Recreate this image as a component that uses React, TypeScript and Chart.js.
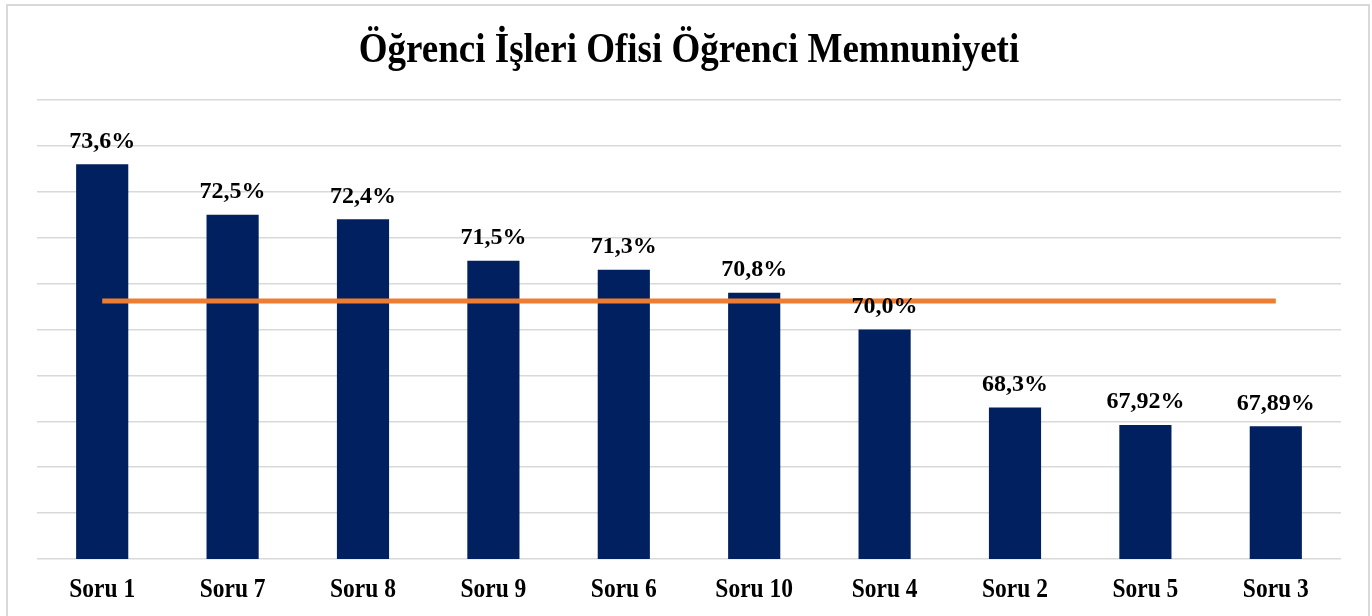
import React, { useEffect, useRef } from "react";
import { Chart, registerables } from "chart.js";

Chart.register(...registerables);

const categories = ["Soru 1", "Soru 7", "Soru 8", "Soru 9", "Soru 6", "Soru 10", "Soru 4", "Soru 2", "Soru 5", "Soru 3"];
const satisfaction = [73.6, 72.5, 72.4, 71.5, 71.3, 70.8, 70.0, 68.3, 67.92, 67.89];
const valueLabels = ["73,6%", "72,5%", "72,4%", "71,5%", "71,3%", "70,8%", "70,0%", "68,3%", "67,92%", "67,89%"];
const averageLine = [70.62, 70.62, 70.62, 70.62, 70.62, 70.62, 70.62, 70.62, 70.62, 70.62];
const yMin = 65;
const yMax = 75;
const yStep = 1;
const title = "Öğrenci İşleri Ofisi Öğrenci Memnuniyeti";

const SERIF = "'Liberation Serif', 'Times New Roman', serif";

function stretchedText(ctx: CanvasRenderingContext2D, text: string, x: number, baseline: number, k: number) {
  ctx.save();
  ctx.translate(x, baseline);
  ctx.scale(1, k);
  ctx.fillText(text, 0, 0);
  ctx.restore();
}

const textPlugin = {
  id: "stretchedTexts",
  afterDraw(chart: any) {
    const ctx: CanvasRenderingContext2D = chart.ctx;
    const xScale = chart.scales.x;
    ctx.save();
    ctx.fillStyle = "#000000";
    ctx.textAlign = "center";
    ctx.textBaseline = "alphabetic";

    // title
    ctx.font = `bold 37px ${SERIF}`;
    stretchedText(ctx, title, (chart.chartArea.left + chart.chartArea.right) / 2, 61.5, 1.16);

    // category labels
    ctx.font = `bold 23.5px ${SERIF}`;
    categories.forEach((c, i) => {
      stretchedText(ctx, c, xScale.getPixelForValue(i), chart.chartArea.bottom + 37.5, 1.18);
    });

    // value labels
    const meta = chart.getDatasetMeta(1);
    ctx.font = `bold 24px ${SERIF}`;
    meta.data.forEach((el: any, i: number) => {
      stretchedText(ctx, valueLabels[i], el.x, el.y - 16.5, 1.0);
    });
    ctx.restore();
  },
};

export default function App() {
  const canvasRef = useRef<HTMLCanvasElement | null>(null);

  useEffect(() => {
    if (!canvasRef.current) return;
    const chart = new Chart(canvasRef.current, {
      type: "bar",
      data: {
        labels: categories,
        datasets: [
          {
            type: "line",
            label: "Ortalama",
            data: averageLine,
            borderColor: "#ED7D31",
            backgroundColor: "#ED7D31",
            borderWidth: 5,
            pointRadius: 0,
            order: 0,
          } as any,
          {
            type: "bar",
            label: "Memnuniyet",
            data: satisfaction,
            backgroundColor: "#002060",
            borderWidth: 0,
            barPercentage: 0.4,
            categoryPercentage: 1.0,
            order: 1,
          },
        ],
      },
      options: {
        responsive: false,
        animation: false,
        layout: { padding: { left: 37, right: 31, top: 100, bottom: 57 } },
        plugins: {
          legend: { display: false },
          tooltip: { enabled: false },
          title: { display: false },
        },
        scales: {
          x: {
            grid: { display: false, drawTicks: false },
            border: { display: false },
            ticks: { display: false },
          },
          y: {
            min: yMin,
            max: yMax,
            ticks: { display: false, stepSize: yStep },
            grid: { color: "#d9d9d9", lineWidth: 1.5, drawTicks: false },
            border: { display: false },
          },
        },
      },
      plugins: [textPlugin],
    });
    return () => chart.destroy();
  }, []);

  return (
    <div style={{ position: "absolute", left: 0, top: 0, width: 1372, height: 616, overflow: "hidden", background: "#ffffff" }}>
      <div
        style={{
          position: "absolute",
          left: 6,
          top: 4,
          width: 1360,
          height: 700,
          border: "2px solid #d9d9d9",
        }}
      />
      <canvas ref={canvasRef} width={1372} height={616} style={{ position: "absolute", left: 0, top: 0, display: "block" }} />
    </div>
  );
}
